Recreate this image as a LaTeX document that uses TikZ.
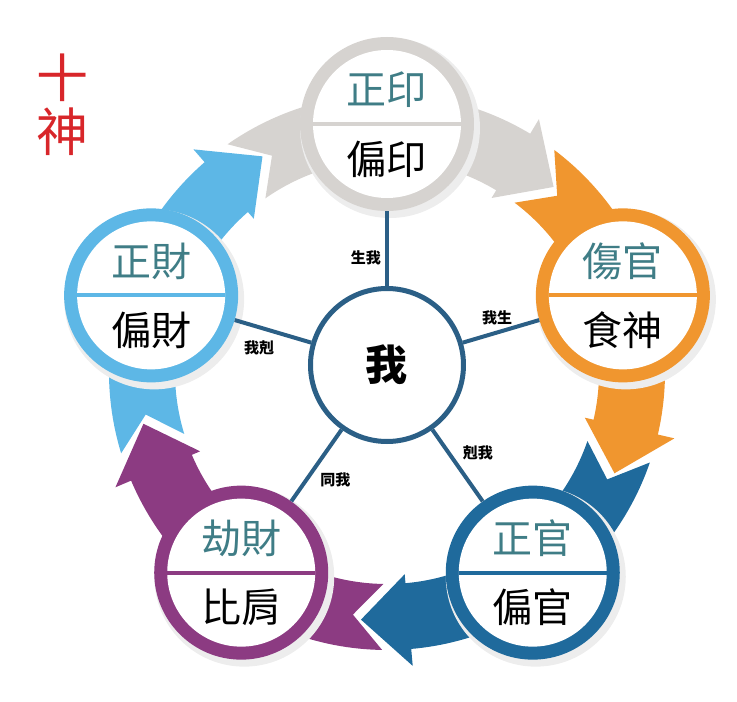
\documentclass[tikz,border=0pt]{standalone}
\usepackage{fontspec}
\setmainfont{Noto Sans CJK TC}
\usepackage{tikz}
\usetikzlibrary{positioning}

\definecolor{grayring}{RGB}{214,211,208}
\definecolor{orangering}{RGB}{240,150,47}
\definecolor{darkring}{RGB}{31,106,156}
\definecolor{purplering}{RGB}{140,59,130}
\definecolor{skyring}{RGB}{93,183,230}
\definecolor{meblue}{RGB}{43,95,134}
\definecolor{tealtxt}{RGB}{63,125,134}
\definecolor{redtxt}{RGB}{216,38,42}

\begin{document}
\begin{tikzpicture}[x=1pt,y=1pt,
  ring/.style={circle, inner sep=0pt, minimum size=174pt},
  spoke/.style={line width=4pt, draw=meblue},
  spoke label/.style={font=\fontsize{15}{15}\selectfont\bfseries, inner sep=1pt},
  upper text/.style={text=tealtxt, font=\fontsize{40}{40}\selectfont},
  lower text/.style={text=black, font=\fontsize{40}{40}\selectfont},
  ]
  \useasboundingbox (-387,-330) rectangle (350,372);

  % ribbon arrows, one per god, clockwise
  \foreach \a/\c in {90/grayring,18/orangering,-54/darkring,-126/purplering,162/skyring}{
    \fill[\c] ({\a+35}:278) -- ({\a+28}:245) -- ({\a+35}:212)
      arc[start angle=\a+35, end angle=\a-31, radius=212]
      -- ({\a-31}:203) -- ({\a-42}:249) -- ({\a-31}:295) -- ({\a-31}:278)
      arc[start angle=\a-31, end angle=\a+35, radius=278] -- cycle;
  }

  \node[circle, draw=meblue, line width=5pt, minimum size=153pt, inner sep=0pt,
    font=\fontsize{42}{42}\selectfont\bfseries] (me) at (0,7) {我};

  \foreach \a/\n/\c/\up/\lo in {90/yin/grayring/正印/偏印,
      18/shang/orangering/傷官/食神, -54/guan/darkring/正官/偏官,
      -126/jie/purplering/劫財/比肩, 162/cai/skyring/正財/偏財}{
    \fill[black!7] ([shift={(3,-4)}]\a:248) circle[radius=90];
    \node[ring, fill=\c] (\n) at (\a:248) {};
    \fill[white] (\n) circle[radius=74];
    \draw[\c, line width=4pt] ([xshift=-74pt]\n.center) -- ([xshift=74pt]\n.center);
    \node[upper text] at ([yshift=34pt]\n.center) {\up};
    \node[lower text] at ([yshift=-35pt]\n.center) {\lo};
  }

  \draw[spoke] (me) -- node[spoke label, left=3pt, pos=.38] {生我} (yin);
  \draw[spoke] (me) -- node[spoke label, above=4pt, pos=.45] {我生} (shang);
  \draw[spoke] (me) -- node[spoke label, right=11pt, pos=.33] {剋我} (guan);
  \draw[spoke] (me) -- node[spoke label, right=11pt, pos=.7] {同我} (jie);
  \draw[spoke] (me) -- node[spoke label, below=10pt, pos=.68] {我剋} (cai);

  \node[text=redtxt, align=center, font=\fontsize{52}{54}\selectfont] (title) at (-324,267) {十\\神};
\end{tikzpicture}
\end{document}
